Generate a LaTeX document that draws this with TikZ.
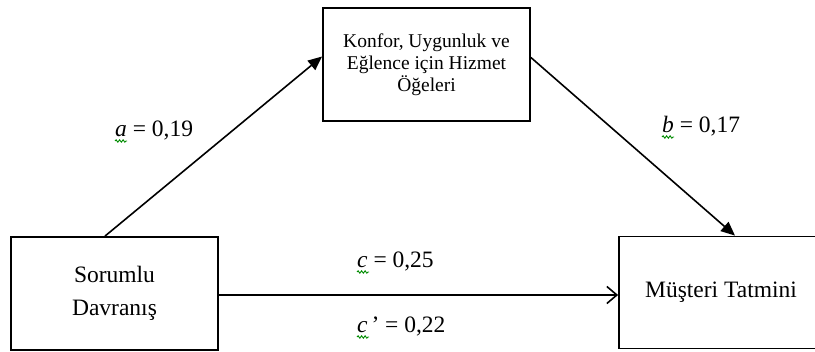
\documentclass[tikz,border=0pt]{standalone}
\usepackage{fontspec}
\setmainfont{Liberation Serif}
\usetikzlibrary{arrows.meta,calc,decorations.pathmorphing}
\begin{document}
\begin{tikzpicture}[x=1pt,y=-1pt,
  box/.style={draw, line width=1.8pt, inner sep=0pt, align=center},
  bigtext/.style={font=\fontsize{23.5}{33}\selectfont},
  lbl/.style={inner sep=0pt, anchor=base west, font=\fontsize{23.5}{28}\selectfont},
  conn/.style={line width=1.6pt},
  solidtip/.style={-{Triangle[length=14pt,width=12pt]}},
  opentip/.style={-{Straight Barb[length=10pt,width=17pt,line width=1.6pt]}},
  squig/.style={draw=green!55!black, line width=0.9pt, decorate,
    decoration={snake, amplitude=1.2pt, segment length=3.5pt}}
]
\useasboundingbox (0,0) rectangle (815,352);
\clip (0,0) rectangle (815,352);
\fill[white] (0,0) rectangle (815,352);

\node[box, minimum width=207pt, minimum height=113pt,
  font=\fontsize{19.5}{22}\selectfont] (M) at (426.5,64.5)
  {Konfor, Uygunluk ve\\Eğlence için Hizmet\\Öğeleri};
\node[box, bigtext, minimum width=207pt, minimum height=113pt] (L) at (114.5,293.5)
  {Sorumlu\\Davranış};
\node[box, bigtext, minimum width=204pt, minimum height=112pt] (R) at (721,292.5)
  {Müşteri Tatmini};

\coordinate (aStart) at ($(L.north)+(-9.5,0)$);
\coordinate (aEnd) at ($(M.west)+(0,-8)$);
\coordinate (bStart) at ($(M.east)+(0,-7)$);
\coordinate (bEnd) at ($(R.north)+(14,0)$);
\draw[conn, solidtip] (aStart) -- (aEnd);
\draw[conn, solidtip] (bStart) -- (bEnd);
\draw[conn, opentip] (L.east |- 0,295) -- (R.west |- 0,295);

\node[lbl] (la) at (115,137) {\textit{a} = 0,19};
\node[lbl] (lb) at (662,133) {\textit{b} = 0,17};
\node[lbl] (lc) at (357,268) {\textit{c} = 0,25};
\node[lbl] (lcp) at (357,333) {\textit{c}\,’ = 0,22};

\path[squig] ($(la.base west)+(0,4)$) -- ++(12,0);
\path[squig] ($(lb.base west)+(0,4)$) -- ++(12,0);
\path[squig] ($(lc.base west)+(0,4)$) -- ++(12,0);
\path[squig] ($(lcp.base west)+(0,4)$) -- ++(12,0);
\end{tikzpicture}
\end{document}
